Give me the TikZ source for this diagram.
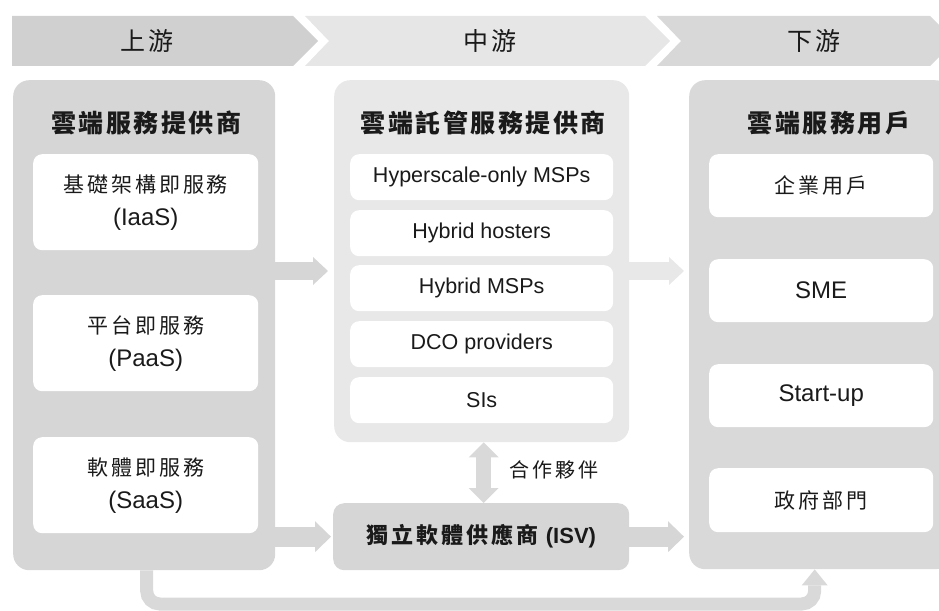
\documentclass[tikz,border=0pt]{standalone}
\usepackage{fontspec}
\setmainfont{Liberation Sans}
\newfontfamily\cjk[LetterSpace=14]{Noto Sans CJK TC}
\newfontfamily\cjkt[LetterSpace=10]{Noto Sans CJK TC}
\newfontfamily\cjkh[LetterSpace=12]{Noto Sans CJK TC}
\usetikzlibrary{arrows.meta,calc}
\definecolor{hdrA}{HTML}{D0D0D0}
\definecolor{hdrB}{HTML}{E6E6E6}
\definecolor{hdrC}{HTML}{D8D8D8}
\definecolor{pnlA}{HTML}{D6D6D6}
\definecolor{pnlB}{HTML}{E8E8E8}
\definecolor{pnlC}{HTML}{D9D9D9}
\definecolor{txt}{HTML}{1A1A1A}
\begin{document}
\begin{tikzpicture}[x=1pt,y=-1pt,
  panel/.style={rounded corners=16pt, inner sep=0pt, anchor=north west},
  wbox/.style={fill=white, rounded corners=9pt, inner sep=0pt, anchor=north west, align=center, text=txt,
    font=\fontsize{21.5pt}{33pt}\selectfont},
  bigtxt/.style={font=\fontsize{24pt}{33pt}\selectfont},
  ttl/.style={text=txt, font=\cjkt\bfseries\fontsize{25pt}{30pt}\selectfont, inner sep=0pt},
  hdr/.style={text=txt, font=\cjkh\fontsize{25pt}{30pt}\selectfont, inner sep=0pt},
  barrow/.style={line width=18pt, -{Triangle[width=28pt,length=15pt,line width=0pt]}},
  barrowb/.style={line width=20pt, -{Triangle[width=31pt,length=16pt,line width=0pt]}}
]
\useasboundingbox (0,0) rectangle (939,610);
\clip (0,0) rectangle (939,610);

% header chevrons
\fill[hdrA] (12,16) -- (293,16) -- (318,41) -- (293,66) -- (12,66) -- cycle;
\fill[hdrB] (305,16) -- (645,16) -- (670,41) -- (645,66) -- (305,66) -- (329,41) -- cycle;
\fill[hdrC] (657,16) -- (930,16) -- (955,41) -- (930,66) -- (657,66) -- (681,41) -- cycle;
\node[hdr] (h1) at (147,41) {上游};
\node[hdr] (h2) at (490,41) {中游};
\node[hdr] (h3) at (814,41) {下游};

% panels
\node[panel, fill=pnlA, minimum width=262pt, minimum height=490pt] (left) at (13,80) {};
\node[panel, fill=pnlB, minimum width=295pt, minimum height=362pt] (mid) at (334,80) {};
\node[panel, fill=pnlA, rounded corners=11pt, minimum width=296pt, minimum height=67pt] (isv) at (333,503) {};
\node[panel, fill=pnlC, minimum width=262pt, minimum height=489pt] (right) at (689,80) {};

% titles
\node[ttl] (t1) at (146,123) {雲端服務提供商};
\node[ttl] (t2) at (483,123) {雲端託管服務提供商};
\node[ttl] (t3) at (829,123) {雲端服務用戶};

% left boxes
\node[wbox, bigtxt, minimum width=225pt, minimum height=96pt] (iaas) at (33,154) {{\cjk\fontsize{21pt}{33pt}\selectfont 基礎架構即服務}\\(IaaS)};
\node[wbox, bigtxt, minimum width=225pt, minimum height=96pt] (paas) at (33,295) {{\cjk\fontsize{21pt}{33pt}\selectfont 平台即服務}\\(PaaS)};
\node[wbox, bigtxt, minimum width=225pt, minimum height=96pt] (saas) at (33,437) {{\cjk\fontsize{21pt}{33pt}\selectfont 軟體即服務}\\(SaaS)};

% middle boxes
\node[wbox, minimum width=263pt, minimum height=46pt] (m1) at (350,154) {Hyperscale-only MSPs};
\node[wbox, minimum width=263pt, minimum height=46pt] (m2) at (350,210) {Hybrid hosters};
\node[wbox, minimum width=263pt, minimum height=46pt] (m3) at (350,265) {Hybrid MSPs};
\node[wbox, minimum width=263pt, minimum height=46pt] (m4) at (350,321) {DCO providers};
\node[wbox, minimum width=263pt, minimum height=46pt] (m5) at (350,377) {SIs};

% right boxes
\node[wbox, minimum width=224pt, minimum height=63pt] (r1) at (709,154) {{\cjk\fontsize{21pt}{33pt}\selectfont 企業用戶}};
\node[wbox, bigtxt, minimum width=224pt, minimum height=63pt] (r2) at (709,259) {SME};
\node[wbox, bigtxt, minimum width=224pt, minimum height=63pt] (r3) at (709,364) {Start-up};
\node[wbox, minimum width=224pt, minimum height=64pt] (r4) at (709,468) {{\cjk\fontsize{21pt}{33pt}\selectfont 政府部門}};

% ISV label
\node[text=txt, inner sep=0pt, font=\bfseries\fontsize{22pt}{26pt}\selectfont] (isvt) at (isv.center) {{\cjk\bfseries 獨立軟體供應商}\hspace{7pt}(ISV)};

% arrows
\coordinate (row1) at (0,271);
\draw[pnlA, barrow, shorten >=6pt] (left.east |- row1) -- (mid.west |- row1);
\draw[pnlB, barrow, shorten >=5pt] (mid.east |- row1) -- (right.west |- row1);
\draw[pnlA, barrowb, shorten >=2pt] (left.east |- isv.center) -- (isv.west);
\draw[pnlA, barrowb, shorten >=5pt] (isv.east) -- (right.west |- isv.center);
\draw[pnlC, line width=15pt, {Triangle[width=30pt,length=15pt,line width=0pt]}-{Triangle[width=30pt,length=15pt,line width=0pt]}]
  ([xshift=2pt]mid.south) -- ([xshift=2pt]mid.south |- isv.north);
\node[text=txt, inner sep=0pt, font=\cjk\fontsize{20pt}{24pt}\selectfont] (partner) at (554,470) {合作夥伴};

% bottom elbow
\draw[pnlC, line width=13pt, rounded corners=13pt, -{Triangle[width=26pt,length=16pt,line width=0pt]}]
  ([xshift=2.5pt]left.south) -- ([xshift=2.5pt]left.south |- 0,604) -- ([xshift=-5.5pt]right.south |- 0,604) -- ([xshift=-5.5pt]right.south);
\end{tikzpicture}
\end{document}
